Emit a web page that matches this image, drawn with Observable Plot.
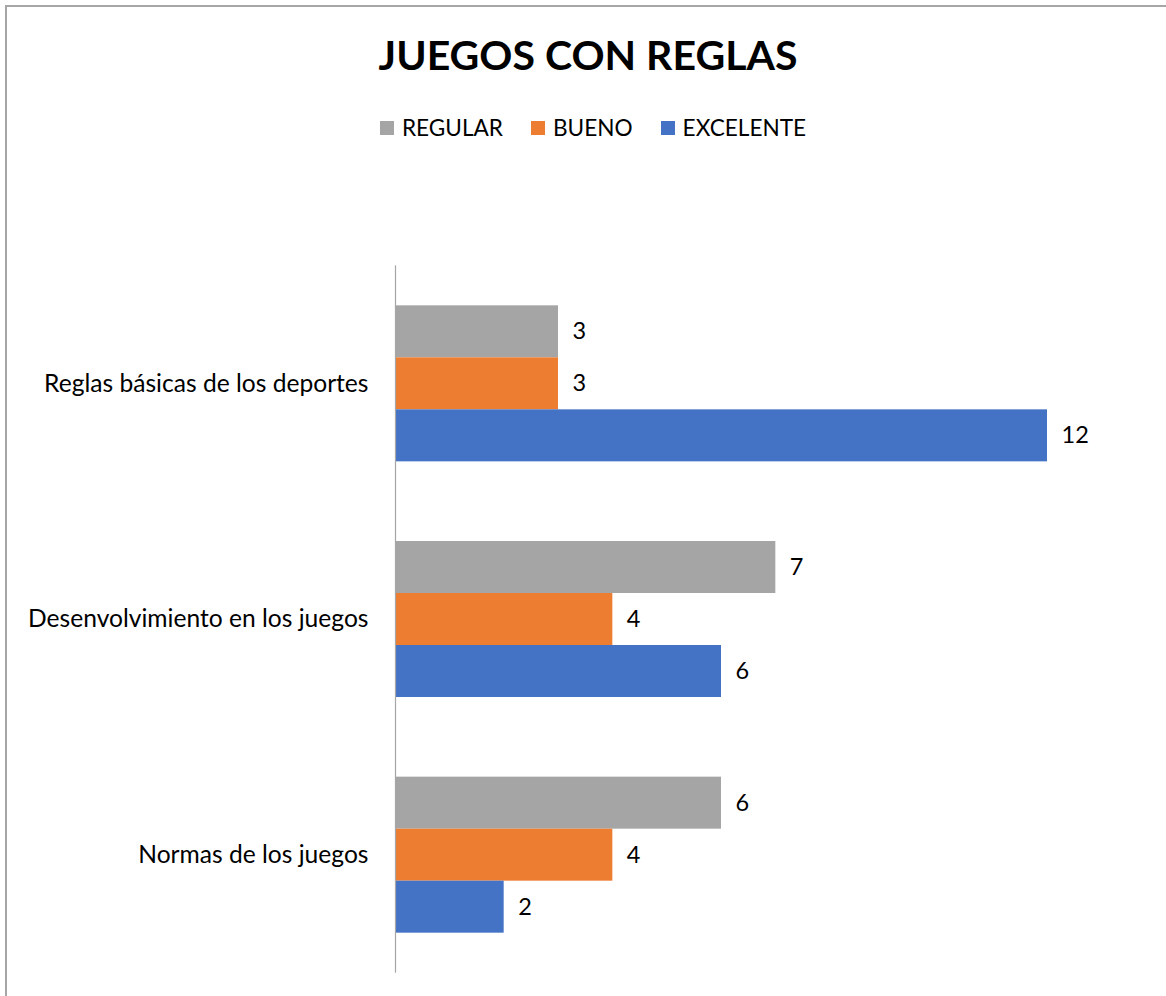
<!DOCTYPE html>
<html><head><meta charset="utf-8">
<script src="https://cdn.jsdelivr.net/npm/d3@7"></script>
<script src="https://cdn.jsdelivr.net/npm/@observablehq/plot@0.6"></script>
<style>
html,body{margin:0;padding:0;background:#fff;overflow:hidden;width:1166px;height:996px;}
body{font-family:Lato, "Open Sans", sans-serif;color:#000;position:relative;}
#frame{position:absolute;left:5px;top:5px;width:1300px;height:1200px;border-left:2px solid #a6a6a6;border-top:2px solid #a6a6a6;box-sizing:border-box;}
#title{position:absolute;left:0;top:28px;width:1176px;text-align:center;font-weight:bold;font-size:41px;line-height:54px;}
#legend{position:absolute;left:0;top:110px;width:1186px;display:flex;justify-content:center;gap:28px;font-size:22.6px;line-height:36px;}
.item{display:flex;align-items:center;gap:8px;}
.sw{width:14px;height:14px;display:inline-block;}
#chart{position:absolute;left:0;top:160px;}
</style></head>
<body>
<div id="frame"></div>
<div id="title"></div>
<div id="legend"></div>
<div id="chart"></div>
<script>
const titleText = "JUEGOS CON REGLAS";
const categories = ["Reglas básicas de los deportes", "Desenvolvimiento en los juegos", "Normas de los juegos"];
const series = ["REGULAR", "BUENO", "EXCELENTE"];
const regular = [3, 7, 6];
const bueno = [3, 4, 4];
const excelente = [12, 6, 2];
const colors = ["#A5A5A5", "#ED7D31", "#4472C4"];

const seriesValues = [regular, bueno, excelente];
const data = categories.flatMap((c, i) => series.map((s, j) => ({category: c, serie: s, value: seriesValues[j][i]})));

document.getElementById("title").textContent = titleText;
const leg = document.getElementById("legend");
series.forEach((s, j) => {
  const it = document.createElement("div"); it.className = "item";
  const sw = document.createElement("span"); sw.className = "sw"; sw.style.background = colors[j];
  const tx = document.createElement("span"); tx.textContent = s;
  it.appendChild(sw); it.appendChild(tx); leg.appendChild(it);
});

const chart = Plot.plot({
  width: 1166,
  height: 836,
  marginTop: 105.5,
  marginBottom: 23.5,
  marginLeft: 395,
  marginRight: 119,
  style: {fontFamily: "Lato, 'Open Sans', sans-serif", fontSize: "24px", color: "#000", background: "transparent"},
  x: {domain: [0, 12], axis: null},
  y: {domain: series, axis: null, padding: 0, round: false},
  fy: {domain: categories, paddingInner: 0.338, paddingOuter: 0.169, round: false, label: null},
  color: {domain: series, range: colors},
  marks: [
    Plot.barX(data, {x: "value", y: "serie", fy: "category", fill: "serie"}),
    Plot.text(data, {x: "value", y: "serie", fy: "category", text: d => String(d.value), textAnchor: "start", dx: 14, fontSize: 23.5, fill: "#000"}),
    Plot.ruleX([0], {stroke: "#a6a6a6", strokeWidth: 1.2, insetTop: -40, insetBottom: -40}),
    Plot.axisFy({anchor: "left", tickSize: 0, tickPadding: 27, fontSize: 24.6, label: null})
  ]
});
document.getElementById("chart").appendChild(chart);
</script>
</body></html>
